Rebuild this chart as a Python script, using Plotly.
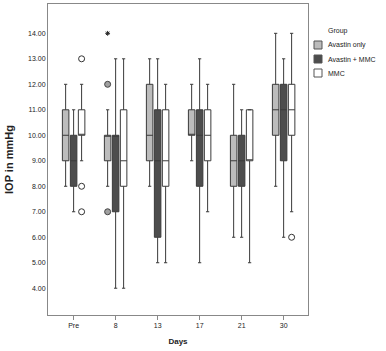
import plotly.graph_objects as go

days = ["Pre", "8", "13", "17", "21", "30"]
groups = ["Avastin only", "Avastin + MMC", "MMC"]

avastin_low = [8, 8, 8, 9, 6, 8]
avastin_q1 = [9, 9, 9, 10, 8, 10]
avastin_med = [10, 10, 10, 10, 9, 11]
avastin_q3 = [11, 10, 12, 11, 10, 12]
avastin_high = [12, 11, 13, 12, 12, 14]

combo_low = [7, 4, 5, 5, 6, 6]
combo_q1 = [8, 7, 6, 8, 8, 9]
combo_med = [9, 10, 9, 10, 9, 11]
combo_q3 = [10, 10, 11, 11, 10, 12]
combo_high = [11, 13, 13, 13, 11, 13]

mmc_low = [9, 4, 5, 7, 5, 7]
mmc_q1 = [10, 8, 8, 9, 9, 10]
mmc_med = [10, 9, 9, 10, 9, 11]
mmc_q3 = [11, 11, 11, 11, 11, 12]
mmc_high = [12, 13, 12, 12, 11, 14]

# outliers
avastin_out_days = ["8", "8"]
avastin_out_vals = [12, 7]
avastin_ext_days = ["8"]
avastin_ext_vals = [14]
mmc_out_days = ["Pre", "Pre", "Pre", "30"]
mmc_out_vals = [13, 8, 7, 6]

yticks = [4, 5, 6, 7, 8, 9, 10, 11, 12, 13, 14]

fills = ["#bcbcbc", "#4d4d4d", "#ffffff"]
offsets = [-0.19, 0.0, 0.19]
BOXW = 0.155
FONT = "Liberation Sans, Arial, sans-serif"

stats = [
    (avastin_low, avastin_q1, avastin_med, avastin_q3, avastin_high),
    (combo_low, combo_q1, combo_med, combo_q3, combo_high),
    (mmc_low, mmc_q1, mmc_med, mmc_q3, mmc_high),
]

idx = {d: i for i, d in enumerate(days)}

fig = go.Figure()
for g, name in enumerate(groups):
    lo, q1, med, q3, hi = stats[g]
    xs = [i + offsets[g] for i in range(len(days))]
    fig.add_trace(go.Box(
        name=name, x=xs, q1=q1, median=med, q3=q3,
        lowerfence=lo, upperfence=hi,
        width=BOXW, whiskerwidth=0.5,
        fillcolor=fills[g],
        line=dict(color="#3a3a3a", width=1),
        boxpoints=False, showlegend=False,
    ))

fig.add_trace(go.Scatter(
    x=[idx[d] + offsets[0] for d in avastin_out_days], y=avastin_out_vals,
    mode="markers", showlegend=False,
    marker=dict(symbol="circle", size=6, color="#a0a0a0",
                line=dict(color="#444", width=1)),
))
fig.add_trace(go.Scatter(
    x=[idx[d] + offsets[0] for d in avastin_ext_days], y=avastin_ext_vals,
    mode="markers", showlegend=False,
    marker=dict(symbol="asterisk-open", size=4, color="#222",
                line=dict(color="#222", width=1)),
))
fig.add_trace(go.Scatter(
    x=[idx[d] + offsets[2] for d in mmc_out_days], y=mmc_out_vals,
    mode="markers", showlegend=False,
    marker=dict(symbol="circle-open", size=6, color="#333",
                line=dict(color="#333", width=1)),
))

# custom legend (pixel positions converted to paper coords)
PL, PR, PT, PB = 48, 308, 4, 315
def px_x(px):
    return (px - PL) / (PR - PL)
def px_y(py):
    return (PB - py) / (PB - PT)

fig.add_annotation(x=px_x(326), y=px_y(31), xref="paper", yref="paper",
                   text="Group", showarrow=False, xanchor="left", yanchor="middle",
                   font=dict(family=FONT, size=7, color="#222"))
for g, name in enumerate(groups):
    cy = 45 + g * 14
    fig.add_shape(type="rect", xref="paper", yref="paper",
                  x0=px_x(314), x1=px_x(322), y0=px_y(cy - 4), y1=px_y(cy + 4),
                  fillcolor=fills[g], line=dict(color="#555", width=1))
    fig.add_annotation(x=px_x(326), y=px_y(cy), xref="paper", yref="paper",
                       text=name, showarrow=False, xanchor="left", yanchor="middle",
                       font=dict(family=FONT, size=7, color="#222"))

fig.update_layout(
    width=386, height=351,
    margin=dict(l=48, r=78, t=4, b=36, autoexpand=False),
    paper_bgcolor="white", plot_bgcolor="white",
    font=dict(family=FONT, size=7, color="#222"),
    showlegend=False,
    xaxis=dict(
        range=[-0.61, 5.58], tickvals=list(range(len(days))), ticktext=days,
        showline=True, mirror=True, linecolor="#888", linewidth=1,
        ticks="outside", ticklen=4, tickcolor="#888",
        showgrid=False, zeroline=False,
        tickfont=dict(size=7, color="#222"),
        title=dict(text="<b>Days</b>", font=dict(size=8, color="#222"), standoff=9),
    ),
    yaxis=dict(
        range=[2.95, 15.15], tickvals=yticks,
        ticktext=[f"{v:.2f}" for v in yticks],
        showline=True, mirror=True, linecolor="#888", linewidth=1,
        ticks="", showgrid=False, zeroline=False,
        tickfont=dict(size=7, color="#222"),
        title=dict(text="<b>IOP in mmHg</b>", font=dict(size=11, color="#222"), standoff=12),
    ),
)

fig.write_html("out.html")
